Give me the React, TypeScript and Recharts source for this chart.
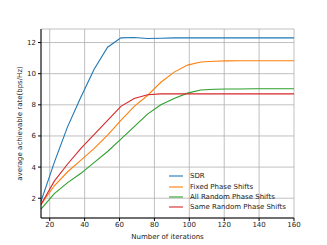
import { LineChart, Line, XAxis, YAxis, CartesianGrid } from "recharts";

const iterations = [
  15, 22.63, 30.26, 37.89, 45.53, 53.16, 60.79, 68.42, 76.05, 83.68, 91.32,
  98.95, 106.58, 114.21, 121.84, 129.47, 137.11, 144.74, 152.37, 160,
];
const sdr = [
  1.8, 4.3, 6.6, 8.5, 10.3, 11.7, 12.3, 12.32, 12.26, 12.28, 12.3, 12.3, 12.3,
  12.3, 12.3, 12.3, 12.3, 12.3, 12.3, 12.3,
];
const fixedPhase = [
  1.6, 2.8, 3.7, 4.45, 5.2, 6.05, 7.0, 7.9, 8.6, 9.45, 10.1, 10.55, 10.75,
  10.8, 10.82, 10.83, 10.83, 10.83, 10.83, 10.83,
];
const allRandom = [
  1.3, 2.3, 3.0, 3.6, 4.3, 5.0, 5.8, 6.6, 7.4, 8.0, 8.4, 8.75, 8.95, 9.0, 9.02,
  9.02, 9.03, 9.03, 9.03, 9.03,
];
const sameRandom = [
  1.6, 3.1, 4.2, 5.2, 6.1, 7.0, 7.9, 8.4, 8.65, 8.7, 8.7, 8.7, 8.7, 8.7, 8.7,
  8.7, 8.7, 8.7, 8.7, 8.7,
];
const xTicks = [20, 40, 60, 80, 100, 120, 140, 160];
const yTicks = [2, 4, 6, 8, 10, 12];

const seriesNames = [
  "SDR",
  "Fixed Phase Shifts",
  "All Random Phase Shifts",
  "Same Random Phase Shifts",
];
const seriesKeys = ["sdr", "fixed", "allRandom", "sameRandom"];
const colors = ["#1f77b4", "#ff7f0e", "#2ca02c", "#d62728"];

const data = iterations.map((it, i) => ({
  it,
  sdr: sdr[i],
  fixed: fixedPhase[i],
  allRandom: allRandom[i],
  sameRandom: sameRandom[i],
}));

const font = { fontFamily: "DejaVu Sans", fontSize: 7, fill: "#222" };

export default function App() {
  return (
    <div style={{ position: "fixed", left: 0, top: 0, width: 327, height: 245, background: "#fff" }}>
      <LineChart
        width={327}
        height={245}
        data={data}
        margin={{ top: 29, right: 33, bottom: 0, left: 0 }}
      >
        <CartesianGrid stroke="#b0b0b0" strokeWidth={0.8} horizontal vertical />
        <XAxis
          dataKey="it"
          type="number"
          domain={[15, 160]}
          ticks={xTicks}
          height={27}
          tickSize={3}
          tickMargin={1}
          stroke="#000"
          tick={font}
          label={{ value: "Number of iterations", position: "insideBottom", offset: 6, style: font }}
        />
        <XAxis xAxisId="top" orientation="top" dataKey="it" type="number" domain={[15, 160]} tick={false} tickLine={false} height={0} stroke="#000" />
        <YAxis
          type="number"
          domain={[0.73, 12.87]}
          ticks={yTicks}
          width={41}
          tickSize={3}
          tickMargin={2}
          stroke="#000"
          tick={font}
          label={{ value: "average achievable rate(bps/Hz)", angle: -90, position: "center", dx: -1, style: font }}
        />
        <YAxis yAxisId="right" orientation="right" domain={[0.73, 12.87]} tick={false} tickLine={false} width={0} stroke="#000" />
        {seriesKeys.map((k, i) => (
          <Line
            key={k}
            dataKey={k}
            stroke={colors[i]}
            strokeWidth={1.1}
            dot={false}
            isAnimationActive={false}
          />
        ))}
      </LineChart>
      <div style={{ position: "absolute", left: 168, top: 171, fontFamily: "DejaVu Sans", fontSize: 7, color: "#222" }}>
        {seriesNames.map((n, i) => (
          <div key={n} style={{ display: "flex", alignItems: "center", height: 10.4 }}>
            <svg width={16} height={4} style={{ marginRight: 6 }}>
              <line x1={1} y1={2} x2={15} y2={2} stroke={colors[i]} strokeWidth={1.1} />
            </svg>
            <span>{n}</span>
          </div>
        ))}
      </div>
    </div>
  );
}
